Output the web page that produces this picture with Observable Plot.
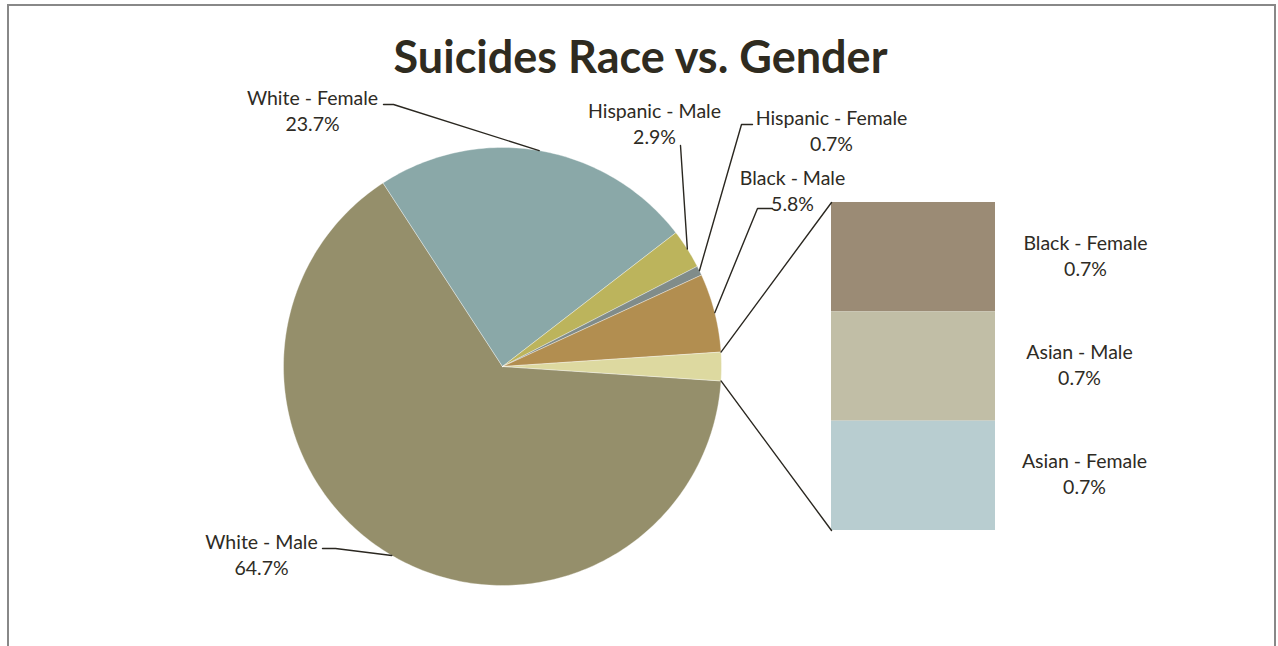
<!DOCTYPE html>
<html><head><meta charset="utf-8">
<script src="https://cdn.jsdelivr.net/npm/d3@7"></script>
<script src="https://cdn.jsdelivr.net/npm/@observablehq/plot@0.6"></script>
<style>
body{margin:0;background:#fff;}
#wrap{position:relative;width:1278px;height:646px;overflow:hidden;}
#border{position:absolute;left:7px;top:4px;width:1269px;height:700px;border:2px solid #888;box-sizing:border-box;pointer-events:none;}
svg{display:block;}
</style></head><body><div id="wrap"><div id="chart"></div><div id="border"></div></div>
<script>
// ---- data ----
const categories = ["White - Male","White - Female","Hispanic - Male","Hispanic - Female","Black - Male","Black - Female","Asian - Male","Asian - Female"];
const values = [64.7, 23.7, 2.9, 0.7, 5.8, 0.7, 0.7, 0.7];
const valueLabels = ["64.7%","23.7%","2.9%","0.7%","5.8%","0.7%","0.7%","0.7%"];
const inBar = [false, false, false, false, false, true, true, true];
const sliceColors = ["#958f6b","#8aa8a8","#bcb45c","#808c8a","#b28e50","#9b8b75","#c1bea6","#b8cdd0"];
const otherColor = "#ddd9a0";
const title = "Suicides Race vs. Gender";

// ---- layout (pixels) ----
const W = 1278, H = 646;
const CX = 502, CY = 366, R = 219;
const BAR = {x1: 831, x2: 995, top: 202, bottom: 530};
const labelPos = {
  "White - Male":     {x: 261, y: 553, path: [[322,548],[335,548]]},
  "White - Female":   {x: 312, y: 109, path: [[383,104],[393,104]]},
  "Hispanic - Male":  {x: 654, y: 122, path: [[680,145]]},
  "Hispanic - Female":{x: 831, y: 129, path: [[752,124],[741,124]]},
  "Black - Male":     {x: 792, y: 189, path: [[772,208],[757,208]]},
  "Black - Female":   {x: 1085, y: 254},
  "Asian - Male":     {x: 1079, y: 363},
  "Asian - Female":   {x: 1084, y: 472}
};
const textColor = "#2e2b24";
const FONT = "Lato, 'Open Sans', sans-serif";

// ---- geometry from data ----
const total = d3.sum(values);
const otherSum = d3.sum(values.filter((v,i)=>inBar[i]));
const deg = v => v / total * 360;
const otherA = deg(otherSum);
const pt = (a, r=R) => [CX + r*Math.sin(a*Math.PI/180), CY - r*Math.cos(a*Math.PI/180)];

const pieItems = [];
let a = 90 + otherA/2;
categories.forEach((c,i) => {
  if (inBar[i]) return;
  pieItems.push({name: c, a0: a, a1: a + deg(values[i]), color: sliceColors[i]});
  a += deg(values[i]);
});
pieItems.push({name: "Other", a0: a, a1: a + otherA, color: otherColor});

const polyPts = [];
for (const s of pieItems) {
  const n = Math.max(4, Math.ceil((s.a1 - s.a0)));
  polyPts.push({name: s.name, color: s.color, p: [CX, CY]});
  for (let k = 0; k <= n; k++) polyPts.push({name: s.name, color: s.color, p: pt(s.a0 + (s.a1 - s.a0)*k/n)});
  polyPts.push({name: s.name, color: s.color, p: [CX, CY]});
}

// bar segments
const barScale = (BAR.bottom - BAR.top) / otherSum;
const barRects = [];
let yb = BAR.top;
categories.forEach((c,i) => {
  if (!inBar[i]) return;
  barRects.push({name: c, y1: yb, y2: yb + values[i]*barScale, color: sliceColors[i]});
  yb += values[i]*barScale;
});

// connectors between pie "Other" slice and bar
const other = pieItems[pieItems.length-1];
const connectors = [
  {id: "top", p: pt(other.a0)}, {id: "top", p: [BAR.x1, BAR.top]},
  {id: "bot", p: pt(other.a1)}, {id: "bot", p: [BAR.x1, BAR.bottom]}
];

// leader lines
const leaders = [];
for (const s of pieItems) {
  const L = labelPos[s.name];
  if (!L || !L.path) continue;
  for (const q of L.path) leaders.push({name: s.name, p: q});
  leaders.push({name: s.name, p: pt((s.a0 + s.a1)/2)});
}

const labels = categories.map((c,i) => ({text: c + "\n" + valueLabels[i], x: labelPos[c].x, y: labelPos[c].y}));

const chart = Plot.plot({
  width: W, height: H, margin: 0,
  x: {domain: [0, W], axis: null},
  y: {domain: [H, 0], axis: null},
  style: {background: "white", fontFamily: FONT},
  marks: [
    Plot.line(polyPts, {x: d => d.p[0], y: d => d.p[1], z: "name", fill: "color", stroke: "white", strokeWidth: 0.6, strokeOpacity: 0.6, curve: "linear-closed"}),
    Plot.rect(barRects, {x1: BAR.x1, x2: BAR.x2, y1: "y1", y2: "y2", fill: "color"}),
    Plot.line(connectors, {x: d => d.p[0], y: d => d.p[1], z: "id", stroke: "#2a2720", strokeWidth: 1.4}),
    Plot.line(leaders, {x: d => d.p[0], y: d => d.p[1], z: "name", stroke: "#2a2720", strokeWidth: 1.4}),
    Plot.text(labels, {x: "x", y: "y", text: "text", fill: textColor, fontSize: 19.5, lineHeight: 1.36, textAnchor: "middle", lineAnchor: "middle"}),
    Plot.text([title], {x: W/2 + 1, y: 58, text: d => d, fill: "#2f2b20", fontSize: 45, fontWeight: "bold", textAnchor: "middle", lineAnchor: "middle"})
  ]
});
document.getElementById("chart").appendChild(chart);
</script>
</body></html>
